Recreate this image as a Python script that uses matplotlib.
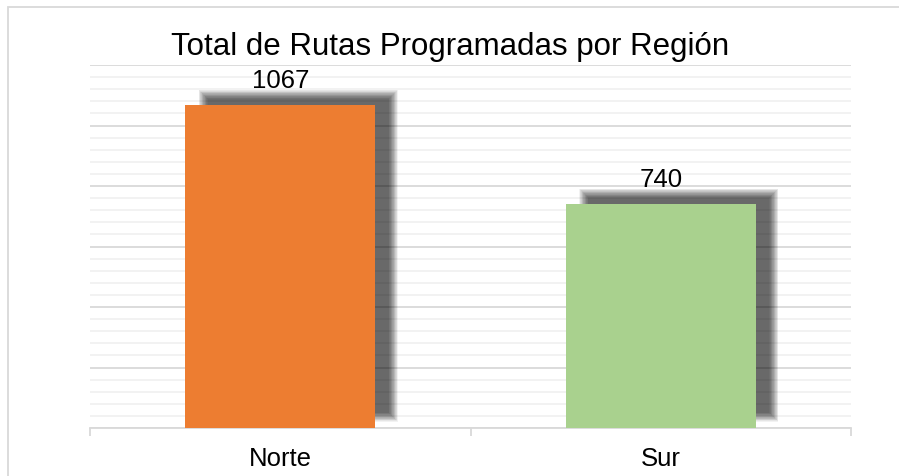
import numpy as np
import matplotlib.pyplot as plt
import matplotlib.transforms as mtransforms
from matplotlib.patches import Rectangle
from matplotlib.ticker import MultipleLocator, NullFormatter

# Data
regions = ['Norte', 'Sur']
routes = [1067, 740]
bar_colors = ['#ED7D31', '#A9D18E']

plt.rcParams['font.family'] = ['Liberation Sans', 'DejaVu Sans']

fig = plt.figure(figsize=(8.99, 4.77), dpi=100)
ax = fig.add_axes([90 / 899, 1 - 429 / 477, 761 / 899, 363 / 477])

x = np.arange(len(regions))
width = 0.5

# Soft drop shadow behind the bars (offset right and up, blurred edges)
shadow_shift = mtransforms.ScaledTranslation(18 / 100, 11 / 100, fig.dpi_scale_trans)
n_layers = 16
blur = 4.5  # pixels
for k in range(n_layers):
    inset = -blur + 2 * blur * k / (n_layers - 1)
    for xi, val in zip(x, routes):
        # inset converted to data units
        dx = inset / (761 / 2.0)
        dy = inset / (363 / 1200.0)
        r = Rectangle((xi - width / 2 + dx, dy), width - 2 * dx, val - 2 * dy,
                      facecolor='black', alpha=0.05, linewidth=0,
                      transform=ax.transData + shadow_shift, zorder=2)
        ax.add_patch(r)

bars = ax.bar(x, routes, width=width, color=bar_colors, zorder=3)

for xi, val in zip(x, routes):
    ax.annotate(str(val), (xi, val), xytext=(0, 13), textcoords='offset points',
                ha='center', va='baseline', fontsize=18.5, color='black', zorder=4)

ax.set_xlim(-0.5, 1.5)
ax.set_ylim(0, 1200)
ax.yaxis.set_major_locator(MultipleLocator(200))
ax.yaxis.set_minor_locator(MultipleLocator(40))
ax.grid(axis='y', which='major', color='#D9D9D9', linewidth=1.3)
ax.grid(axis='y', which='minor', color='#EFEFEF', linewidth=1.1)
ax.set_axisbelow(True)
ax.tick_params(axis='y', which='both', length=0, labelleft=False)

ax.set_xticks(x)
ax.set_xticklabels(regions, fontsize=18.5)
ax.set_xticks([-0.5, 0.5, 1.5], minor=True)
ax.xaxis.set_minor_formatter(NullFormatter())
ax.tick_params(axis='x', which='major', length=0, pad=13)
ax.tick_params(axis='x', which='minor', length=6, width=1.3, color='#D9D9D9', direction='out')

for side in ['top', 'right', 'left']:
    ax.spines[side].set_visible(False)
ax.spines['bottom'].set_color('#D9D9D9')
ax.spines['bottom'].set_linewidth(1.3)

fig.text(450 / 899, 1 - 55 / 477, 'Total de Rutas Programadas por Región',
         ha='center', va='baseline', fontsize=22.5, color='black')

# Chart-area border (only left and top edges fall inside the image)
fig.add_artist(Rectangle((8 / 899, -0.2), 1.5, 1.2 - 8 / 477, transform=fig.transFigure,
                         fill=False, edgecolor='#D9D9D9', linewidth=1.3))

fig.savefig('out.png', dpi=100)
